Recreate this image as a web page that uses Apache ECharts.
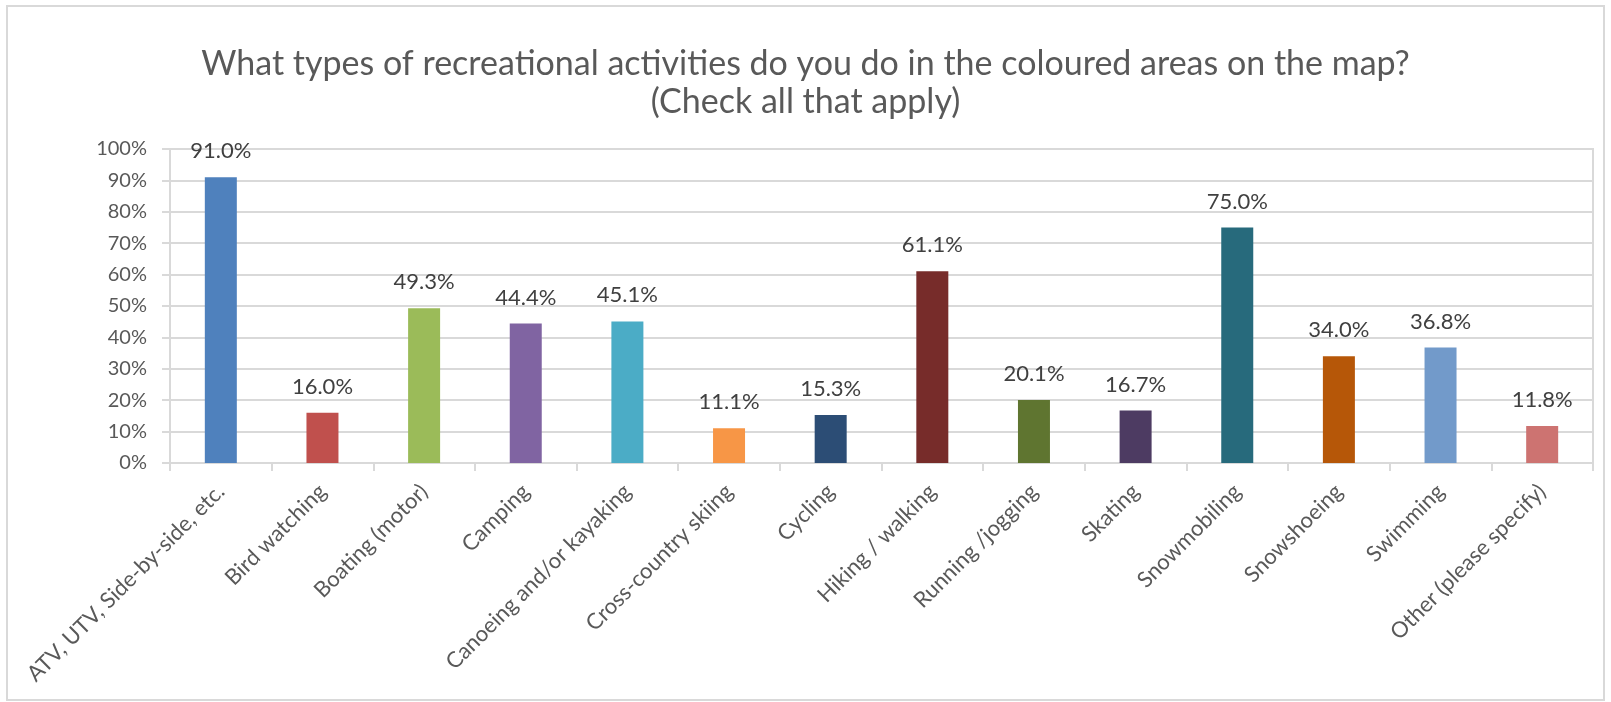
<!DOCTYPE html>
<html>
<head>
<meta charset="utf-8">
<script src="https://cdn.jsdelivr.net/npm/echarts@6/dist/echarts.min.js"></script>
<style>
  html, body { margin: 0; padding: 0; background: #ffffff; }
  #chart { width: 1611px; height: 702px; }
</style>
</head>
<body>
<div id="chart"></div>
<script>
// Survey answers: share of respondents per activity (percent)
const categories = [
  'ATV, UTV, Side-by-side, etc.',
  'Bird watching',
  'Boating (motor)',
  'Camping',
  'Canoeing and/or kayaking',
  'Cross-country skiing',
  'Cycling',
  'Hiking / walking',
  'Running /jogging',
  'Skating',
  'Snowmobiling',
  'Snowshoeing',
  'Swimming',
  'Other (please specify)'
];
const values = [91.0, 16.0, 49.3, 44.4, 45.1, 11.1, 15.3, 61.1, 20.1, 16.7, 75.0, 34.0, 36.8, 11.8];
const barColors = [
  '#4f81bd', '#c0504d', '#9bbb59', '#8064a2', '#4bacc6', '#f79646', '#2c4d75',
  '#772c2a', '#5f7530', '#4d3b62', '#276a7c', '#b65708', '#729aca', '#cd7371'
];
const titleLines = [
  'What types of recreational activities do you do in the coloured areas on the map?',
  '(Check all that apply)'
];

const FONT = 'Lato, "Open Sans", "Noto Sans", sans-serif';
const chart = echarts.init(document.getElementById('chart'), null, { renderer: 'canvas' });

chart.setOption({
  backgroundColor: '#ffffff',
  animation: false,
  title: {
    text: titleLines.join('\n'),
    left: 'center',
    top: 40,
    textStyle: {
      fontFamily: FONT,
      fontSize: 34,
      fontWeight: 'normal',
      color: '#595959',
      lineHeight: 38
    }
  },
  graphic: [{
    type: 'rect',
    shape: { x: 7, y: 6, width: 1597, height: 694 },
    style: { fill: 'none', stroke: '#d9d9d9', lineWidth: 2 },
    silent: true
  }],
  grid: {
    left: 170, right: 18, top: 149, bottom: 239,
    show: true, borderColor: '#d9d9d9', borderWidth: 2
  },
  xAxis: {
    type: 'category',
    data: categories,
    axisLine: { show: true, lineStyle: { color: '#d9d9d9', width: 2 } },
    axisTick: { show: true, length: 8, alignWithLabel: false, lineStyle: { color: '#d9d9d9', width: 2 } },
    axisLabel: {
      interval: 0,
      rotate: 45,
      margin: 25,
      fontFamily: FONT,
      fontSize: 22,
      color: '#595959'
    },
    splitLine: { show: false }
  },
  yAxis: {
    type: 'value',
    min: 0,
    max: 100,
    interval: 10,
    axisLine: { show: true, lineStyle: { color: '#d9d9d9', width: 2 } },
    axisTick: { show: true, length: 8, lineStyle: { color: '#d9d9d9', width: 2 } },
    axisLabel: {
      margin: 23,
      fontFamily: FONT,
      fontSize: 20,
      color: '#595959',
      formatter: v => v + '%'
    },
    splitLine: { show: true, lineStyle: { color: '#d9d9d9', width: 2 } }
  },
  series: [{
    type: 'bar',
    barWidth: 32,
    data: values.map((v, i) => ({ value: v, itemStyle: { color: barColors[i] } })),
    label: {
      show: true,
      position: 'top',
      distance: 15,
      fontFamily: FONT,
      fontSize: 22,
      color: '#404040',
      formatter: p => p.value.toFixed(1) + '%'
    }
  }]
});
</script>
</body>
</html>
